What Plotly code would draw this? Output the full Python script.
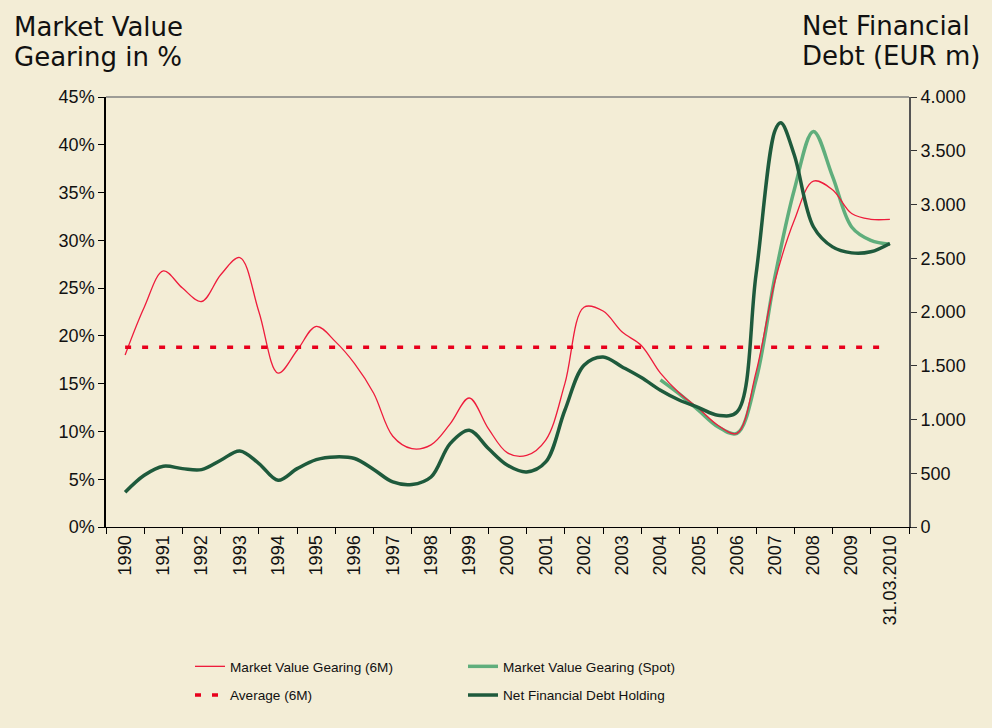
import plotly.graph_objects as go

# ---------------- data ----------------
categories = [str(y) for y in range(1990, 2010)] + ["31.03.2010"]
cat_pos = list(range(1990, 2011))

# half-year time points (2010 = 31.03.2010 category)
period = [1990 + k * 0.5 for k in range(41)]

mvg_6m = [18.0, 23.0, 26.8, 25.0, 23.6, 26.4, 28.2, 22.5, 16.1, 18.5,
          21.0, 19.4, 17.1, 14.0, 9.5, 8.2, 8.6, 10.8, 13.5, 10.3,
          7.75, 7.5, 9.1, 15.0, 23.0, 22.6, 20.4, 19.0, 16.1, 14.0,
          12.4, 10.65, 9.8, 16.2, 25.8, 32.1, 36.2, 35.3, 32.8, 32.2,
          32.2]

debt_period = ([1990 + k * 0.5 for k in range(35)] + [2007.15]
               + [2007.5 + k * 0.5 for k in range(6)])
net_debt = [323, 481, 565, 543, 534, 621, 707, 590, 435, 543,
            627, 652, 637, 535, 419, 395, 465, 776, 900, 730,
            574, 512, 605, 1086, 1505, 1582, 1489, 1390, 1272, 1179,
            1111, 1040, 1070, 2350, 3692, 3760, 3460, 2793, 2606, 2550,
            2560, 2638]

spot_period = [2004 + k * 0.5 for k in range(13)]
mvg_spot = [15.4, 13.9, 12.2, 10.5, 9.8, 15.4, 26.3, 35.3, 41.4, 36.7,
            31.4, 30.0, 29.6]

avg_period = [1990, 2010]
avg_6m = [18.8, 18.8]

left_ticks = [0, 5, 10, 15, 20, 25, 30, 35, 40, 45]
left_ticktext = [f"{v}%" for v in left_ticks]
right_ticks = [0, 500, 1000, 1500, 2000, 2500, 3000, 3500, 4000]

# ---------------- styles ----------------
BG = "#F3EDD6"
RED = "#EE1C3C"
AVG_RED = "#E8001C"
SPOT = "#5FAE7C"
DEBT = "#1E5A3C"
TICKFONT = dict(family="Arial, Liberation Sans, sans-serif", size=18, color="#111")
TITLEFONT = dict(family="Verdana, DejaVu Sans, sans-serif", size=26, color="#111")
LEGFONT = dict(family="Arial, Liberation Sans, sans-serif", size=13.6, color="#111")

fig = go.Figure()

fig.add_trace(go.Scatter(
    x=debt_period, y=net_debt, yaxis="y2", mode="lines", name="Net Financial Debt Holding",
    line=dict(color=DEBT, width=3.5, shape="spline", smoothing=1.0),
    legend="legend2", legendrank=2, legendgroup="d"))
fig.add_trace(go.Scatter(
    x=spot_period, y=mvg_spot, mode="lines", name="Market Value Gearing (Spot)",
    line=dict(color=SPOT, width=3.5, shape="spline", smoothing=1.0),
    legend="legend2", legendrank=1, legendgroup="s"))
fig.add_trace(go.Scatter(
    x=period, y=mvg_6m, mode="lines", name="Market Value Gearing (6M)",
    line=dict(color=RED, width=1.3, shape="spline", smoothing=1.0),
    legend="legend", legendrank=1, legendgroup="r"))
fig.add_trace(go.Scatter(
    x=avg_period, y=avg_6m, mode="lines", name="Average (6M)",
    line=dict(color=AVG_RED, width=3.5, dash="6px,11px"),
    legend="legend", legendrank=2, legendgroup="a"))

L, R, T, B = 106, 83, 97, 201
W, H = 992, 728
pw = W - L - R
ph = H - T - B


def px_x(px):
    return (px - L) / pw


def px_y(py):
    return (H - B - py) / ph


fig.update_layout(
    width=W, height=H,
    margin=dict(l=L, r=R, t=T, b=B, pad=0),
    paper_bgcolor=BG, plot_bgcolor=BG,
    separators=",.",
    showlegend=True,
    hovermode=False,
    xaxis=dict(
        range=[1989.5, 2010.5], tickmode="array", tickvals=cat_pos, ticktext=categories,
        tickangle=-90, ticks="", tickfont=TICKFONT, showgrid=False, zeroline=False,
        showline=True, linecolor="#000", linewidth=1.3,
        minor=dict(tickmode="array", tickvals=[c - 0.5 for c in cat_pos] + [2010.5],
                   ticks="outside", ticklen=6, tickcolor="#000", tickwidth=1, showgrid=False),
    ),
    yaxis=dict(
        range=[0, 45], tickmode="array", tickvals=left_ticks, ticktext=left_ticktext,
        ticks="outside", ticklen=6, tickcolor="#000", tickwidth=1.2,
        tickfont=TICKFONT, showgrid=False, zeroline=False,
        showline=True, linecolor="#000", linewidth=1.5,
    ),
    yaxis2=dict(
        range=[0, 4000], overlaying="y", side="right", tickmode="array", tickvals=right_ticks,
        tickformat=",d", ticks="outside", ticklen=6, tickcolor="#333", tickwidth=1.2,
        tickfont=TICKFONT, showgrid=False, zeroline=False,
        showline=True, linecolor="#555", linewidth=2,
    ),
    legend=dict(x=px_x(190), y=px_y(651), xanchor="left", yanchor="top",
                bgcolor="rgba(0,0,0,0)", font=LEGFONT, itemwidth=30,
                traceorder="grouped", tracegroupgap=8),
    legend2=dict(x=px_x(463), y=px_y(651), xanchor="left", yanchor="top",
                 bgcolor="rgba(0,0,0,0)", font=LEGFONT, itemwidth=30,
                 traceorder="grouped", tracegroupgap=8),
    shapes=[dict(type="line", xref="paper", yref="paper", x0=0, x1=1, y0=1, y1=1,
                 line=dict(color="#808080", width=1.5))],
    annotations=[
        dict(text="Market Value", x=px_x(12), y=px_y(27), xref="paper", yref="paper",
             xanchor="left", yanchor="middle", showarrow=False, font=TITLEFONT),
        dict(text="Gearing in %", x=px_x(12), y=px_y(57), xref="paper", yref="paper",
             xanchor="left", yanchor="middle", showarrow=False, font=TITLEFONT),
        dict(text="Net Financial", x=px_x(800), y=px_y(26), xref="paper", yref="paper",
             xanchor="left", yanchor="middle", showarrow=False, font=TITLEFONT),
        dict(text="Debt (EUR m)", x=px_x(800), y=px_y(56), xref="paper", yref="paper",
             xanchor="left", yanchor="middle", showarrow=False, font=TITLEFONT),
    ],
)

fig.write_html(
    "out.html",
    config={"displayModeBar": False},
    post_script="document.body.style.margin='0';document.body.style.background='" + BG + "';",
)
